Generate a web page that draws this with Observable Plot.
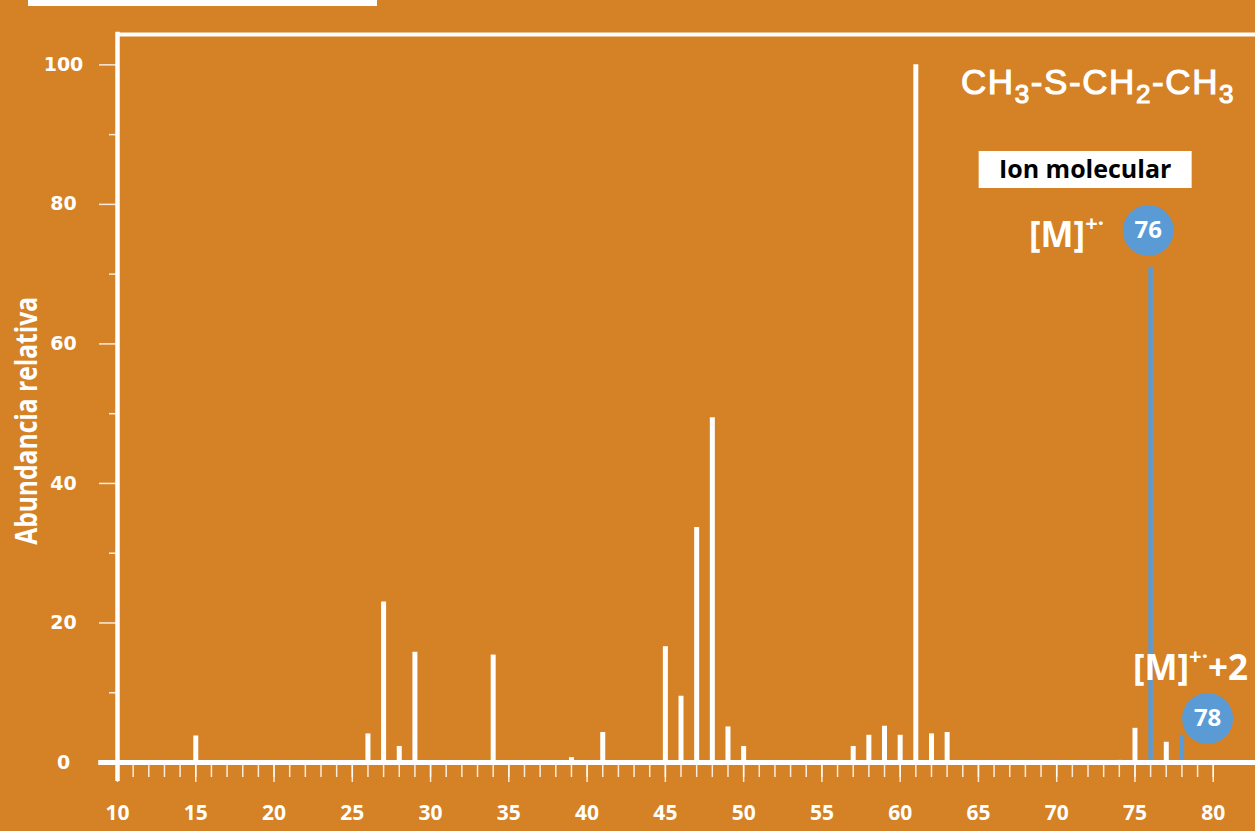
<!DOCTYPE html>
<html><head><meta charset="utf-8">
<script src="https://cdn.jsdelivr.net/npm/d3@7"></script>
<script src="https://cdn.jsdelivr.net/npm/@observablehq/plot@0.6"></script>
<style>
html,body{margin:0;padding:0;background:#D58125;width:1255px;height:831px;overflow:hidden;}
#wrap{position:relative;width:1255px;height:831px;}
#titlebox{position:absolute;left:28px;top:0;width:349px;height:6px;background:#fff;z-index:2;}
svg{display:block}
</style></head><body><div id="wrap"><div id="chart"></div><div id="titlebox"></div></div>
<script>
// m/z values and relative abundances
const mz        = [15, 26, 27, 28, 29, 34, 39, 41, 45, 46, 47, 48, 49, 50, 57, 58, 59, 60, 61, 62, 63, 74, 75, 76, 77, 78];
const abundance = [3.8, 4.1, 23.0, 2.3, 15.8, 15.4, 0.7, 4.3, 16.6, 9.5, 33.7, 49.4, 5.1, 2.3, 2.3, 3.9, 5.2, 3.9, 100, 4.1, 4.3, 0.3, 4.9, 71.0, 2.9, 3.9];
const highlighted = [76, 78];
const xLabelTicks = [10, 15, 20, 25, 30, 35, 40, 45, 50, 55, 60, 65, 70, 75, 80];
const xMinorTicks = d3.range(11, 81);
const yTicks = [0, 20, 40, 60, 80, 100];
const yMinorTicks = [10, 30, 50, 70, 90];
const yLabel = "Abundancia relativa";
const formula = [{text: "CH", sub: false}, {text: "3", sub: true}, {text: "-S-CH", sub: false}, {text: "2", sub: true}, {text: "-CH", sub: false}, {text: "3", sub: true}];
const boxLabel = "Ion molecular";
const circleLabels = [{mz: 75.85, y: 76.26, label: "76"}, {mz: 79.64, y: 6.3, label: "78"}];

const ORANGE = "#D58125", BLUE = "#5B9BD5";
const xDomain = [10, 82.7], yDomain = [0, 104.35];
const data = mz.map((m, i) => ({mz: m, ab: abundance[i], hi: highlighted.includes(m)}));

function richText({x, y, anchor = "start", parts, fill = "white", family = "Open Sans", weight = 700, spacing = 0, strokeW = 0}) {
  return (index, scales) => {
    const t = d3.create("svg:text")
      .attr("x", scales.x(x)).attr("y", scales.y(y))
      .attr("text-anchor", anchor).attr("fill", fill)
      .attr("font-family", family).attr("font-weight", weight)
      .attr("letter-spacing", spacing);
    if (strokeW) t.attr("stroke", fill).attr("stroke-width", strokeW);
    let cur = 0;
    for (const p of parts) {
      const s = p.shift || 0;
      t.append("tspan").attr("dy", s - cur).attr("font-size", p.size).text(p.text);
      cur = s;
    }
    return t.node();
  };
}

function boxText({x, y, w, h, text}) {
  return (index, scales) => {
    const g = d3.create("svg:g");
    const cx = scales.x(x), cy = scales.y(y);
    g.append("rect").attr("x", cx - w / 2).attr("y", cy - h / 2).attr("width", w).attr("height", h).attr("fill", "white");
    g.append("text").attr("x", cx).attr("y", cy).attr("dy", "0.35em").attr("text-anchor", "middle")
      .attr("font-family", "Open Sans").attr("font-weight", 700).attr("font-size", 25).attr("fill", "black").text(text);
    return g.node();
  };
}

function axisLabel({y, dx, text, length}) {
  return (index, scales) => {
    const px = scales.x(xDomain[0]) + dx, py = scales.y(y);
    return d3.create("svg:text")
      .attr("transform", `translate(${px},${py}) rotate(-90)`)
      .attr("text-anchor", "middle").attr("fill", "white")
      .attr("font-family", "Open Sans").attr("font-weight", 700).attr("font-size", 30)
      .attr("textLength", length).attr("lengthAdjust", "spacingAndGlyphs")
      .text(text).node();
  };
}

const tickStyle = {stroke: "white", strokeWidth: 1.5, strokeOpacity: 0.85, label: null};

const chart = Plot.plot({
  width: 1255, height: 831,
  marginLeft: 117, marginRight: 0, marginTop: 34, marginBottom: 69,
  style: {background: "transparent", color: "white", overflow: "visible"},
  x: {domain: xDomain},
  y: {domain: yDomain},
  marks: [
    Plot.ruleX(data, {x: "mz", y1: 0, y2: "ab", stroke: d => d.hi ? BLUE : "white", strokeWidth: d => d.hi ? 4.5 : 5}),
    Plot.axisX({ticks: xMinorTicks, tickSize: 15, tickFormat: () => "", ...tickStyle}),
    Plot.axisX({ticks: xLabelTicks, tickSize: 20, tickPadding: 23, ...tickStyle,
      fontSize: 21, fontWeight: 700, fontFamily: "Open Sans", fill: "white"}),
    Plot.axisY({ticks: yMinorTicks, tickSize: 8, tickFormat: () => "", ...tickStyle}),
    Plot.axisY({ticks: yTicks, tickSize: 18, tickPadding: 36, textAnchor: "middle", ...tickStyle,
      fontSize: 19, fontWeight: 700, fontFamily: "DejaVu Sans", fill: "white"}),
    Plot.ruleY([yDomain[1]], {stroke: "white", strokeWidth: 4}),
    Plot.ruleX([xDomain[0]], {y1: -2.4, y2: yDomain[1], stroke: "white", strokeWidth: 4.5, strokeLinecap: "square"}),
    Plot.ruleY([0], {x1: 8.8, x2: xDomain[1], stroke: "white", strokeWidth: 5}),
    axisLabel({y: 48.9, dx: -80, text: yLabel, length: 248}),
    richText({x: 72.67, y: 95.7, anchor: "middle", family: "Liberation Sans", weight: 400, spacing: 1.6, strokeW: 1.1,
      parts: formula.map(p => ({text: p.text, size: p.sub ? 26 : 35, shift: p.sub ? 9 : 0}))}),
    boxText({x: 71.85, y: 84.93, w: 213, h: 37, text: boxLabel}),
    richText({x: 68.26, y: 73.82, parts: [{text: "[M]", size: 35}, {text: "+·", size: 22, shift: -16}]}),
    richText({x: 74.9, y: 11.75, parts: [{text: "[M]", size: 35}, {text: "+·", size: 22, shift: -16}, {text: "+2", size: 35}]}),
    Plot.dot(circleLabels, {x: "mz", y: "y", r: 25.5, fill: BLUE, stroke: "none"}),
    Plot.text(circleLabels, {x: "mz", y: "y", text: "label", fill: "white", fontFamily: "Open Sans", fontWeight: 700, fontSize: 24})
  ]
});
document.getElementById("chart").appendChild(chart);
</script></body></html>
